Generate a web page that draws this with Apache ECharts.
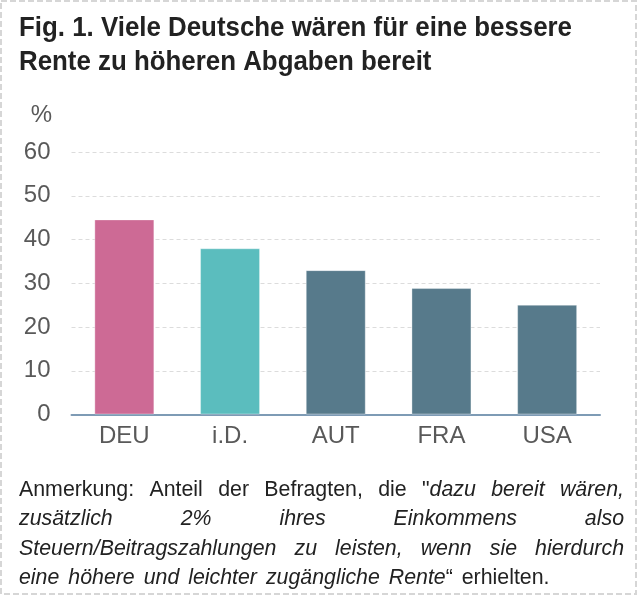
<!DOCTYPE html>
<html>
<head>
<meta charset="utf-8">
<script src="https://cdn.jsdelivr.net/npm/echarts@6/dist/echarts.min.js"></script>
<style>html,body{margin:0;padding:0;background:#fff;}#c{width:640px;height:597px;}</style>
</head>
<body>
<div id="c"></div>
<script>
const categories = ['DEU', 'i.D.', 'AUT', 'FRA', 'USA'];
const values = [44.6, 38.0, 33.0, 28.9, 25.1];
const barColors = ['#CD6A95', '#5BBDBE', '#577A8B', '#577A8B', '#577A8B'];
const yTicks = { min: 0, max: 60, interval: 10 };
const titleLines = ['Fig. 1. Viele Deutsche wären für eine bessere', 'Rente zu höheren Abgaben bereit'];
const noteLines = [
  { justify: true, words: [[['n','Anmerkung:']],[['n','Anteil']],[['n','der']],[['n','Befragten,']],[['n','die']],[['n','"'],['i','dazu']],[['i','bereit']],[['i','wären,']]] },
  { justify: true, words: [[['i','zusätzlich']],[['i','2%']],[['i','ihres']],[['i','Einkommens']],[['i','also']]] },
  { justify: true, words: [[['i','Steuern/Beitragszahlungen']],[['i','zu']],[['i','leisten,']],[['i','wenn']],[['i','sie']],[['i','hierdurch']]] },
  { justify: false, words: [[['i','eine']],[['i','höhere']],[['i','und']],[['i','leichter']],[['i','zugängliche']],[['i','Rente'],['n','\u201C']],[['n','erhielten.']]] }
];

const SANS = '"Liberation Sans", Arial, sans-serif';
const NOTE_SCALE = 0.97;
const noteSize = 22;
const cv = document.createElement('canvas').getContext('2d');
function segFont(kind) { return (kind === 'i' ? 'italic ' : '') + noteSize + 'px ' + SANS; }
function tw(text, font) { cv.font = font; return cv.measureText(text).width * NOTE_SCALE; }
function wordWidth(w) { let s = 0; w.forEach(sg => { s += tw(sg[1], segFont(sg[0])); }); return s; }
const spaceW = tw(' ', segFont('n')) + 3;

const graphics = [];
graphics.push({ type: 'rect', shape: { x: 1, y: 1, width: 635, height: 593 }, style: { fill: 'none', stroke: '#d6d6d6', lineWidth: 2, lineDash: [6, 3] }, silent: true });
const titleFont = 'bold 28px ' + SANS;
cv.font = titleFont;
const titleScale = 553 / cv.measureText(titleLines[0]).width;
titleLines.forEach((t, i) => {
  graphics.push({ type: 'text', x: 19, y: 28 + i * 34.5, scaleX: titleScale, style: { text: t, font: titleFont, fill: '#222222', verticalAlign: 'middle', align: 'left' } });
});
graphics.push({ type: 'text', x: 52, y: 115, style: { text: '%', font: '24px ' + SANS, fill: '#595959', align: 'right', verticalAlign: 'middle' } });

const x0 = 19, x1 = 624;
noteLines.forEach((line, li) => {
  const widths = line.words.map(wordWidth);
  const total = widths.reduce((a, b) => a + b, 0);
  const gap = line.justify ? (x1 - x0 - total) / (line.words.length - 1) : spaceW;
  let x = x0;
  const y = 490 + li * 29.3;
  line.words.forEach((w, wi) => {
    let sx = x;
    w.forEach(sg => {
      graphics.push({ type: 'text', x: sx, y: y, scaleX: NOTE_SCALE, style: { text: sg[1], font: segFont(sg[0]), fill: '#222222', align: 'left', verticalAlign: 'middle' } });
      sx += tw(sg[1], segFont(sg[0]));
    });
    x += widths[wi] + gap;
  });
});

const chart = echarts.init(document.getElementById('c'), null, { renderer: 'canvas' });
chart.setOption({
  animation: false,
  backgroundColor: '#ffffff',
  grid: { left: 71.5, right: 40, top: 152, bottom: 182.5, containLabel: false },
  xAxis: {
    type: 'category', data: categories,
    axisLine: { lineStyle: { color: '#7E9BB5', width: 2 } },
    axisTick: { show: false },
    axisLabel: { color: '#595959', fontSize: 24, fontFamily: SANS, margin: 10 }
  },
  yAxis: {
    type: 'value', min: yTicks.min, max: yTicks.max, interval: yTicks.interval,
    axisLine: { show: false }, axisTick: { show: false },
    axisLabel: { color: '#595959', fontSize: 24, fontFamily: SANS, margin: 21 },
    splitLine: { lineStyle: { color: '#dcdcdc', type: [4, 3], width: 1 } }
  },
  series: [{
    type: 'bar', barWidth: 60,
    data: values.map((v, i) => ({ value: v, itemStyle: { color: barColors[i], borderColor: 'rgba(255,255,255,0.35)', borderWidth: 1 } })),
    z: 3
  }],
  graphic: graphics
});
</script>
</body>
</html>
